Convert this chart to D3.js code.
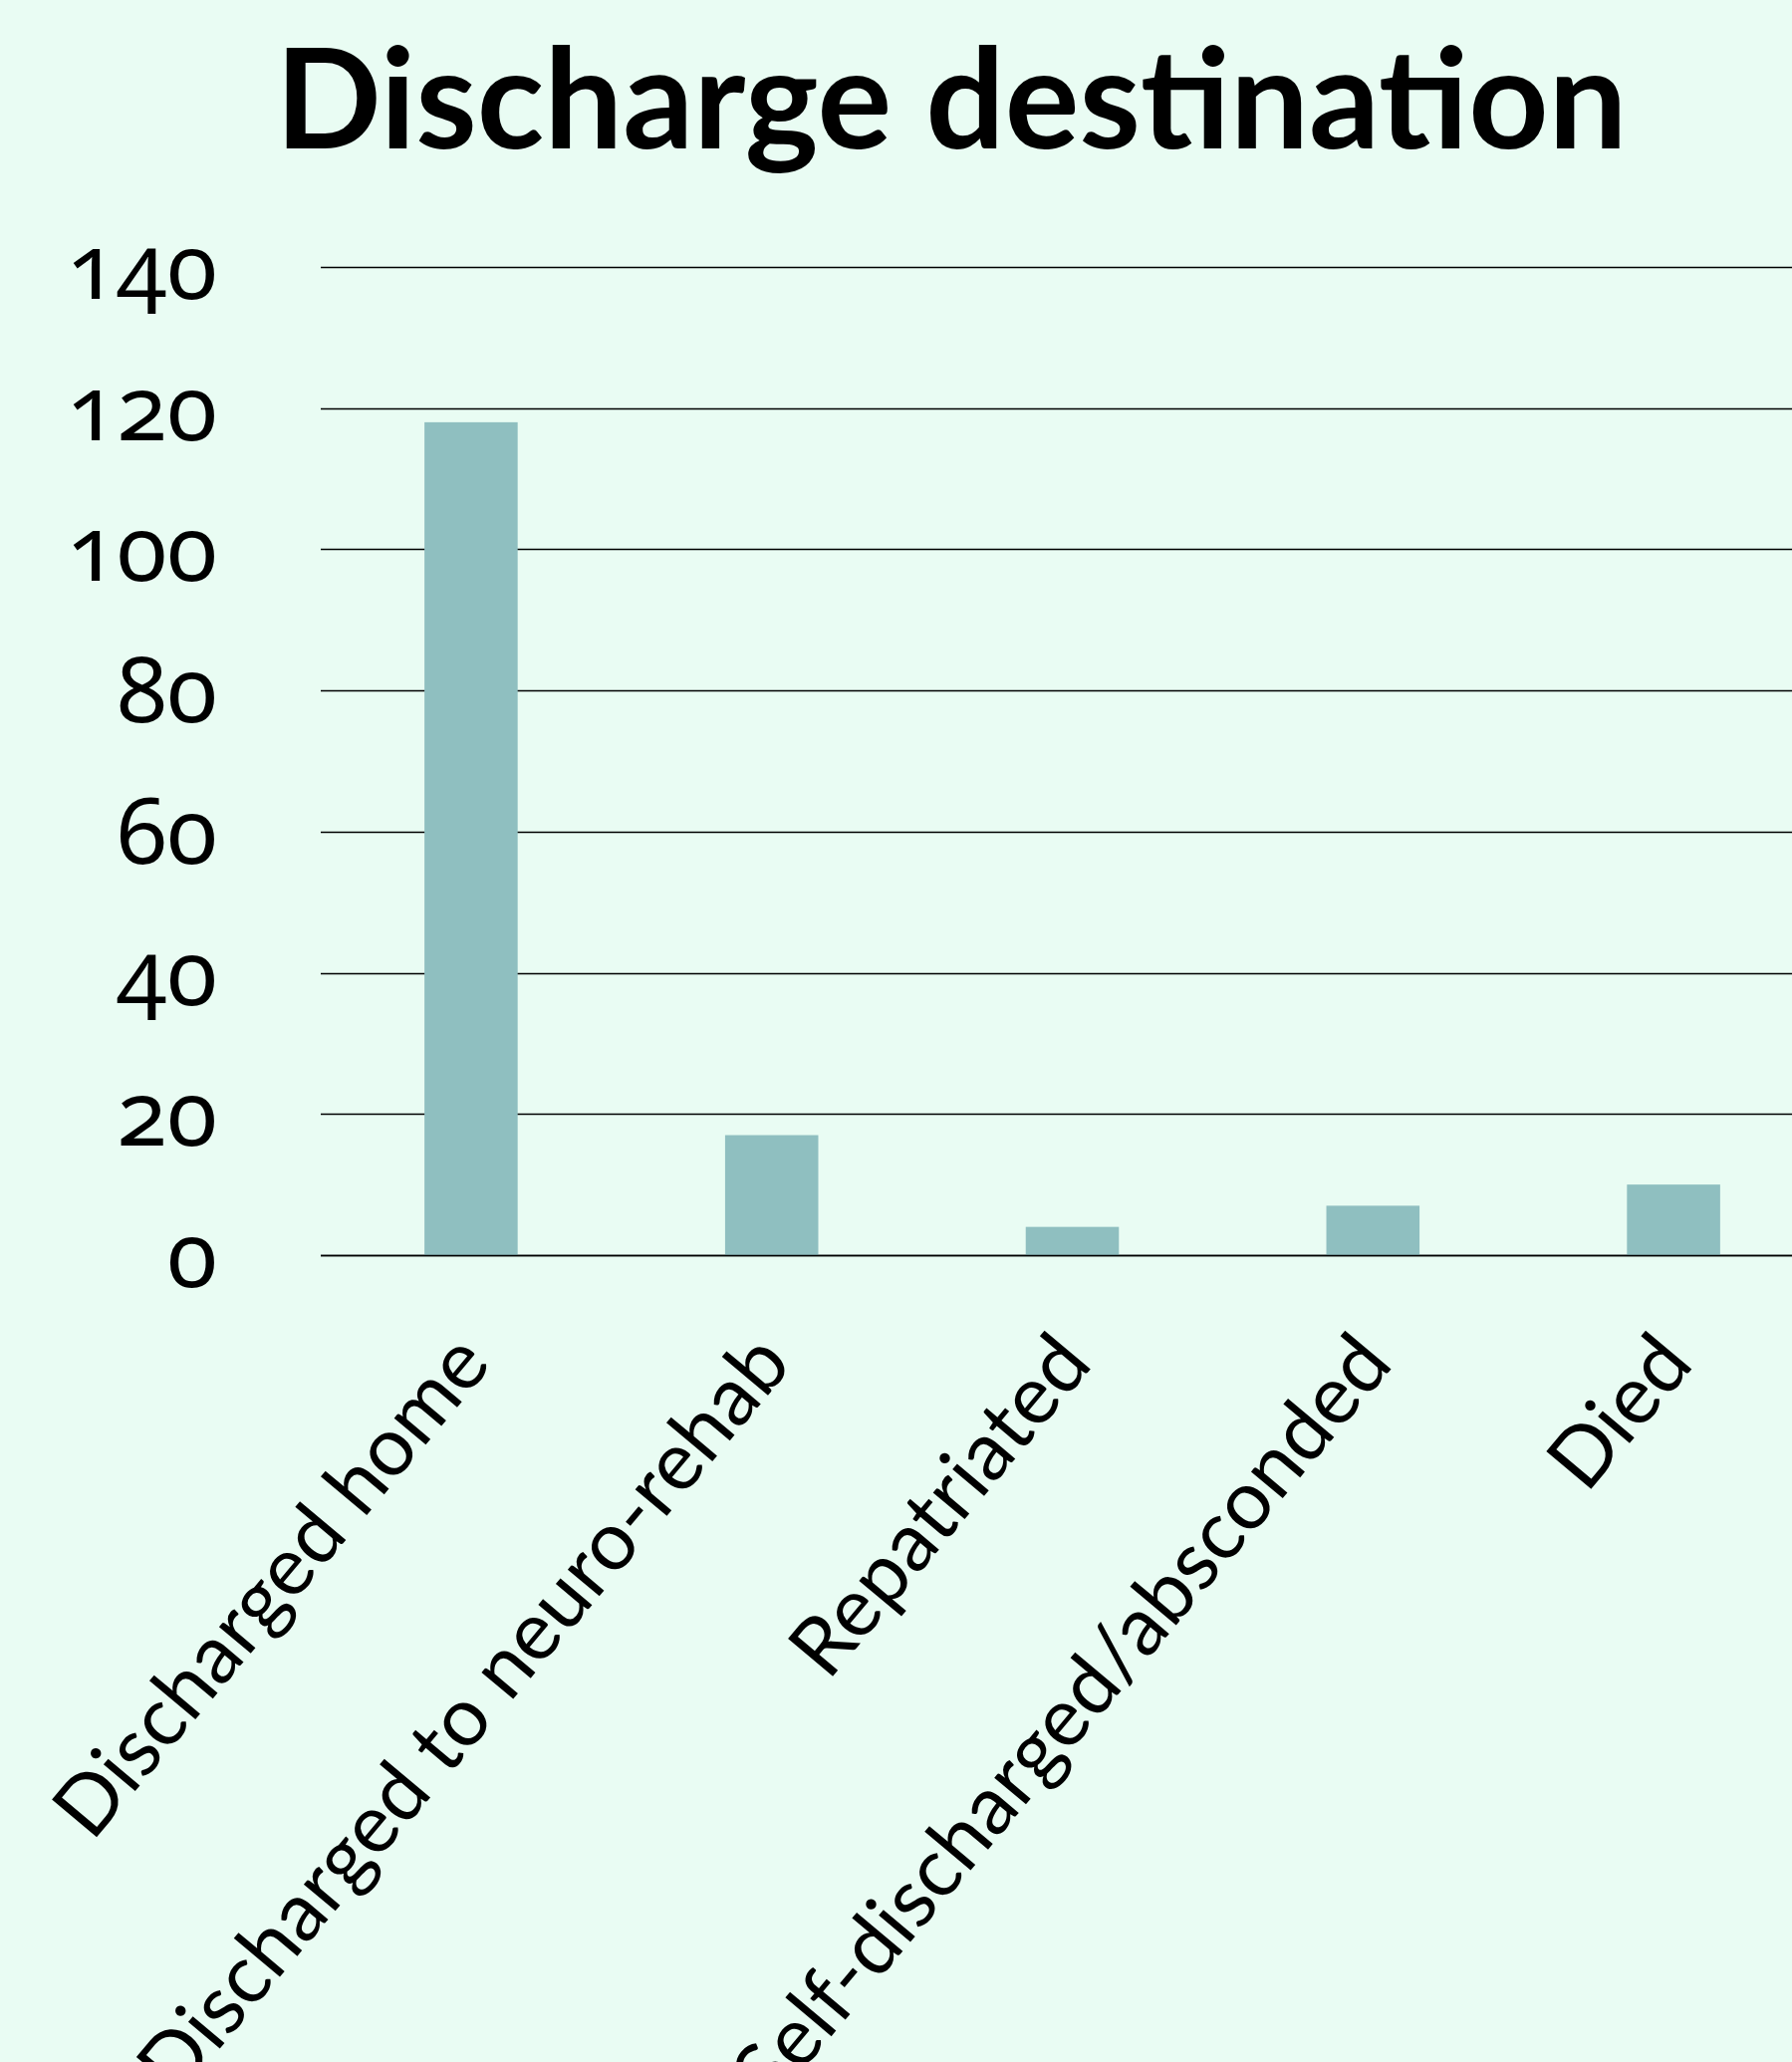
<!DOCTYPE html>
<html>
<head>
<meta charset="utf-8">
<script src="https://cdn.jsdelivr.net/npm/d3@7"></script>
<style>
  html, body { margin: 0; padding: 0; background: #e9fcf3; }
  svg { display: block; }
  text { font-family: Lato, "Open Sans", sans-serif; fill: #000; }
  .y.labels text {
    font-family: "Noto Sans", Lato, sans-serif;
    font-feature-settings: "onum" 1, "tnum" 1;
    font-variant-numeric: oldstyle-nums tabular-nums;
  }
</style>
</head>
<body>
<div id="container"></div>
<script>
const categories = [
  'Discharged home',
  'Discharged to neuro-rehab',
  'Repatriated',
  'Self-discharged/absconded',
  'Died'
];
const counts = [118, 17, 4, 7, 10];
const yTicks = [0, 20, 40, 60, 80, 100, 120, 140];
const title = 'Discharge destination';

const width = 1799;
const height = 2070;
const margin = { top: 268, left: 322, bottom: 2070 - 1260 };
const step = 301.8;

const svg = d3.select('#container').append('svg')
  .attr('width', width)
  .attr('height', height);

svg.append('rect')
  .attr('width', width)
  .attr('height', height)
  .attr('fill', '#e9fcf3');

const x = d3.scaleBand()
  .domain(categories)
  .range([margin.left, margin.left + step * categories.length])
  .paddingInner(0.69)
  .paddingOuter(0.345);

const y = d3.scaleLinear()
  .domain([0, 140])
  .range([height - margin.bottom, margin.top]);

// grid lines
svg.append('g')
  .classed('grid', true)
  .selectAll('line').data(yTicks).enter().append('line')
  .attr('x1', margin.left)
  .attr('x2', width)
  .attr('y1', d => Math.round(y(d)) + 0.5)
  .attr('y2', d => Math.round(y(d)) + 0.5)
  .attr('stroke', '#000')
  .attr('stroke-width', 1.4);

// y tick labels
svg.append('g')
  .classed('y labels', true)
  .selectAll('text').data(yTicks).enter().append('text')
  .attr('x', 218)
  .attr('y', d => y(d) + 32)
  .attr('text-anchor', 'end')
  .style('font-size', '92px')
  .text(d => d);

// bars
svg.append('g')
  .classed('bars', true)
  .selectAll('rect').data(counts).enter().append('rect')
  .attr('x', (d, i) => x(categories[i]))
  .attr('y', d => y(d))
  .attr('width', x.bandwidth())
  .attr('height', d => y(0) - y(d))
  .attr('fill', '#8fbfc0');

// redraw the baseline on top of the bars
svg.append('line')
  .attr('x1', margin.left)
  .attr('x2', width)
  .attr('y1', Math.round(y(0)) + 0.5)
  .attr('y2', Math.round(y(0)) + 0.5)
  .attr('stroke', '#000')
  .attr('stroke-width', 1.4);

// category labels, rotated
svg.append('g')
  .classed('x labels', true)
  .selectAll('text').data(categories).enter().append('text')
  .attr('transform', d => {
    const cx = x(d) + x.bandwidth() / 2 + 22;
    const cy = y(0) + 110;
    return `translate(${cx}, ${cy}) rotate(-50)`;
  })
  .attr('text-anchor', 'end')
  .style('font-size', '82px')
  .text(d => d);

// title
svg.append('text')
  .attr('x', 955)
  .attr('y', 149)
  .attr('text-anchor', 'middle')
  .style('font-size', '140px')
  .style('font-weight', 'bold')
  .text(title);
</script>
</body>
</html>
